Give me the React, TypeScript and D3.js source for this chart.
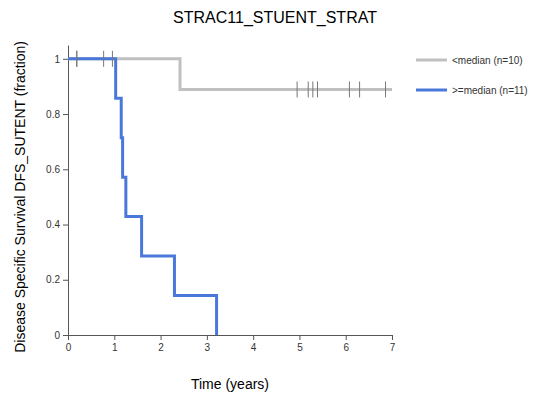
// KM survival chart
import React, { useEffect, useRef } from "react";
import * as d3 from "d3";

const seriesNames = ["<median (n=10)", ">=median (n=11)"];
const seriesColors = ["#c0c0c0", "#4a78da"];

// step points: [time, survival]
const lowTimes = [0, 2.42, 7.0];
const lowSurv = [1, 0.889, 0.889];
const highTimes = [0, 1.03, 1.15, 1.18, 1.25, 1.59, 2.3, 3.21];
const highSurv = [1, 0.857, 0.714, 0.571, 0.429, 0.286, 0.143, 0];

// censored times
const lowCensor = [0.19, 4.95, 5.19, 5.29, 5.39, 6.08, 6.3, 6.86];
const highCensor = [0.19, 0.77, 0.96];

const xTicks = [0, 1, 2, 3, 4, 5, 6, 7];
const yTicks = [0, 0.2, 0.4, 0.6, 0.8, 1];

const App = () => {
  const ref = useRef<SVGSVGElement>(null);

  useEffect(() => {
    const svg = d3.select(ref.current);
    svg.selectAll("*").remove();

    const x = d3.scaleLinear().domain([0, 7]).range([68, 392]);
    const y = d3.scaleLinear().domain([0, 1.05]).range([335, 45]);
    const font = "Helvetica, Arial, 'Liberation Sans', sans-serif";

    // title
    svg
      .append("text")
      .attr("x", 275)
      .attr("y", 23)
      .attr("text-anchor", "middle")
      .style("font-family", font)
      .style("font-size", "16px")
      .text("STRAC11_STUENT_STRAT");

    // axes
    const xAxis = svg
      .append("g")
      .attr("transform", `translate(0,${y(0)})`)
      .call(
        d3
          .axisBottom(x)
          .tickValues(xTicks)
          .tickFormat((d) => String(d))
          .tickSize(5)
          .tickSizeOuter(0)
          .tickPadding(4)
      );
    const yAxis = svg
      .append("g")
      .attr("transform", `translate(${x(0)},0)`)
      .call(
        d3
          .axisLeft(y)
          .tickValues(yTicks)
          .tickFormat((d) => String(d))
          .tickSize(5)
          .tickSizeOuter(0)
          .tickPadding(3)
      );
    [xAxis, yAxis].forEach((g) => {
      g.selectAll("text").style("font-family", font).style("font-size", "10px").attr("fill", "#333");
      g.selectAll("line, path").attr("stroke", "#555");
    });

    // axis labels
    svg
      .append("text")
      .attr("x", 230)
      .attr("y", 389)
      .attr("text-anchor", "middle")
      .style("font-family", font)
      .style("font-size", "14px")
      .text("Time (years)");
    svg
      .append("text")
      .attr("transform", `translate(25,${y(0.5)}) rotate(-90)`)
      .attr("text-anchor", "middle")
      .style("font-family", font)
      .style("font-size", "14px")
      .text("Disease Specific Survival DFS_SUTENT (fraction)");

    const line = d3
      .line<[number, number]>()
      .x((d) => x(d[0]))
      .y((d) => y(d[1]))
      .curve(d3.curveStepAfter);

    const series = [
      { t: lowTimes, s: lowSurv, c: lowCensor },
      { t: highTimes, s: highSurv, c: highCensor },
    ];

    series.forEach((ser, i) => {
      const pts = ser.t.map((t, j) => [t, ser.s[j]] as [number, number]);
      svg
        .append("path")
        .attr("d", line(pts))
        .attr("fill", "none")
        .attr("stroke", seriesColors[i])
        .attr("stroke-width", 3);
    });

    // censor marks
    series.forEach((ser) => {
      ser.c.forEach((t) => {
        let v = ser.s[0];
        ser.t.forEach((tt, j) => {
          if (tt <= t) v = ser.s[j];
        });
        svg
          .append("line")
          .attr("x1", x(t))
          .attr("x2", x(t))
          .attr("y1", y(v) - 8)
          .attr("y2", y(v) + 8)
          .attr("stroke", "#777")
          .attr("stroke-width", 1);
      });
    });

    // legend
    seriesNames.forEach((name, i) => {
      const ly = 60 + i * 30;
      svg
        .append("line")
        .attr("x1", 416)
        .attr("x2", 447)
        .attr("y1", ly)
        .attr("y2", ly)
        .attr("stroke", seriesColors[i])
        .attr("stroke-width", 3);
      svg
        .append("text")
        .attr("x", 452)
        .attr("y", ly + 3.5)
        .style("font-family", font)
        .style("font-size", "10px")
        .attr("fill", "#333")
        .text(name);
    });
  }, []);

  return <svg ref={ref} width={542} height={396} style={{ position: "absolute", left: 0, top: 0 }} />;
};

export default App;
